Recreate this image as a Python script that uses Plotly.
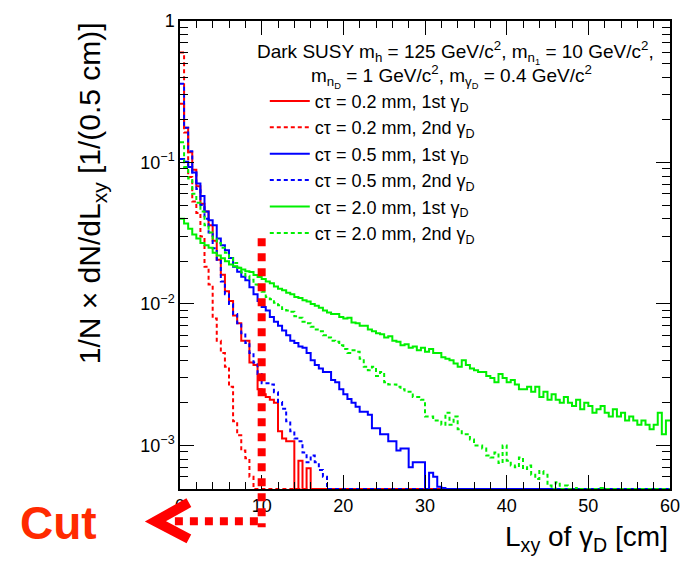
import plotly.graph_objects as go

# ---------------- data (per 0.5 cm bin, starting at L_xy = 0) ----------------
BIN_WIDTH = 0.5
N_BINS = 120
CUT_X = 10

ct02_1st = [0.26, 0.176, 0.118, 0.089, 0.068, 0.051, 0.045, 0.036, 0.028, 0.0205,
            0.0161, 0.0123, 0.0105, 0.0083, 0.0073, 0.0055, 0.0055, 0.00385, 0.0037, 0.0025,
            0.0023, 0.0022, 0.0021, 0.0020, 0.00126, 0.00112, 0.00107, 0.00107, 0.0, 0.00078,
            0.0, 0.00069, 0.0, 0.0]

ct02_2nd = [0.60, 0.163, 0.079, 0.053, 0.044, 0.030, 0.0183, 0.0137, 0.0079, 0.0055,
            0.0045, 0.0036, 0.0026, 0.00148, 0.00118, 0.00092, 0.00081, 0.0006, 0.0, 0.0]

ct05_1st = [0.106, 0.101, 0.093, 0.085, 0.071, 0.058, 0.045, 0.039, 0.036, 0.029,
            0.026, 0.024, 0.0211, 0.0183, 0.0169, 0.0156, 0.0147, 0.0131, 0.0117, 0.0105,
            0.0095, 0.0090, 0.0081, 0.0075, 0.0070, 0.0065, 0.0060, 0.0055, 0.0053, 0.0050,
            0.0049, 0.0045, 0.0040, 0.0037, 0.0035, 0.0033, 0.0033, 0.0029, 0.0028, 0.0025,
            0.0023, 0.00213, 0.0020, 0.00188, 0.00173, 0.00173, 0.00165, 0.00132, 0.00132, 0.0012,
            0.0012, 0.00107, 0.00107, 0.00092, 0.00095, 0.00095, 0.0007, 0.00076, 0.00076, 0.00076,
            0.0, 0.00064, 0.0006, 0.00051, 0.0005, 0.0]

ct05_2nd = [0.36, 0.176, 0.12, 0.085, 0.065, 0.050, 0.040, 0.032, 0.0248, 0.0205,
            0.0144, 0.0117, 0.0100, 0.0085, 0.0073, 0.0062, 0.0053, 0.0045, 0.00385, 0.0032,
            0.00275, 0.00275, 0.0027, 0.00238, 0.00203, 0.00182, 0.00148, 0.00126, 0.00112, 0.00107,
            0.00089, 0.00076, 0.00085, 0.00076, 0.00067, 0.0006, 0.0]

ct20_1st = [0.040, 0.037, 0.034, 0.031, 0.029, 0.027, 0.026, 0.025, 0.023, 0.022,
            0.021, 0.020, 0.019, 0.0185, 0.018, 0.0175, 0.017, 0.0168, 0.016, 0.0155,
            0.0150, 0.0144, 0.0140, 0.0133, 0.0128, 0.0125, 0.0120, 0.0117, 0.0112, 0.0110,
            0.0106, 0.0104, 0.0100, 0.0097, 0.0094, 0.0090, 0.0087, 0.0085, 0.0085, 0.0081,
            0.0079, 0.0080, 0.0074, 0.0073, 0.0070, 0.0070, 0.0066, 0.0064, 0.0062, 0.0061,
            0.0058, 0.0059, 0.0055, 0.0054, 0.0051, 0.0052, 0.0049, 0.0050, 0.0047, 0.0049,
            0.0046, 0.0048, 0.0045, 0.0045, 0.0042, 0.0041, 0.0040, 0.0038, 0.0036, 0.0040,
            0.0037, 0.0035, 0.0034, 0.0033, 0.0033, 0.0031, 0.0030, 0.0028, 0.0032, 0.0030,
            0.0028, 0.0029, 0.0027, 0.0025, 0.0025, 0.0026, 0.0024, 0.0026, 0.0022, 0.0024,
            0.0021, 0.0023, 0.0021, 0.0020, 0.0022, 0.0020, 0.0019, 0.0021, 0.0018, 0.0020,
            0.0019, 0.0017, 0.0018, 0.0019, 0.0017, 0.0016, 0.0018, 0.0016, 0.0017, 0.0015,
            0.0016, 0.0015, 0.0014, 0.0015, 0.0014, 0.0013, 0.0014, 0.0017, 0.0012, 0.0015]

ct20_2nd = [0.139, 0.093, 0.077, 0.060, 0.052, 0.045, 0.036, 0.032, 0.029, 0.027,
            0.025, 0.023, 0.021, 0.0195, 0.018, 0.0167, 0.0158, 0.0148, 0.0137, 0.0130,
            0.0122, 0.0112, 0.0108, 0.0102, 0.0098, 0.0092, 0.0090, 0.0088, 0.0082, 0.0080,
            0.0075, 0.0073, 0.0069, 0.0066, 0.0064, 0.0060, 0.0058, 0.0055, 0.0054, 0.0051,
            0.0048, 0.0045, 0.0047, 0.0046, 0.0041, 0.0036, 0.0034, 0.0036, 0.0031, 0.0033,
            0.0028, 0.0027, 0.0027, 0.0026, 0.0025, 0.0024, 0.0024, 0.0022, 0.0022, 0.0021,
            0.0016, 0.0016, 0.0015, 0.0015, 0.0014, 0.0017, 0.0014, 0.0016, 0.0013, 0.0012,
            0.0012, 0.0011, 0.0010, 0.0010, 0.00095, 0.00085, 0.00082, 0.00089, 0.00075, 0.0010,
            0.00078, 0.00072, 0.00070, 0.00082, 0.00068, 0.00072, 0.00062, 0.00058, 0.00066, 0.00062,
            0.00052, 0.0, 0.00055, 0.0, 0.00052, 0.0, 0.0, 0.0005, 0.0, 0.0,
            0.0, 0.0, 0.0, 0.0005, 0.0]

series_names = ["cτ = 0.2 mm, 1st γ<sub>D</sub>", "cτ = 0.2 mm, 2nd γ<sub>D</sub>",
                "cτ = 0.5 mm, 1st γ<sub>D</sub>", "cτ = 0.5 mm, 2nd γ<sub>D</sub>",
                "cτ = 2.0 mm, 1st γ<sub>D</sub>", "cτ = 2.0 mm, 2nd γ<sub>D</sub>"]
series_values = [ct02_1st, ct02_2nd, ct05_1st, ct05_2nd, ct20_1st, ct20_2nd]
series_colors = ["#ff0000", "#ff0000", "#0000ff", "#0000ff", "#00f000", "#00f000"]
series_dash = ["solid", "4px,3px", "solid", "4px,3px", "solid", "4px,3px"]

x_ticks = [0, 10, 20, 30, 40, 50, 60]
y_tickvals = [1e-3, 1e-2, 1e-1, 1]
y_ticktext = ["10<sup>−3</sup>", "10<sup>−2</sup>", "10<sup>−1</sup>", "1"]

# ---------------- layout helpers ----------------
W, H = 691, 565
L, R, T, B = 180, 14, 11, 76
PW, PH = W - L - R, H - T - B
Y_LOG_MIN = -3.308
FLOOR = 10 ** Y_LOG_MIN
FONT = "Liberation Sans, Arial, Helvetica, sans-serif"


def px_x(px):
    return (px - L) / PW


def px_y(py):
    return (H - B - py) / PH


edges = [i * BIN_WIDTH for i in range(N_BINS + 1)]

fig = go.Figure()
for i, (name, vals, col, dash) in enumerate(zip(series_names, series_values, series_colors, series_dash)):
    full = list(vals) + [0.0] * (N_BINS - len(vals))
    ys = [v if v > FLOOR else FLOOR for v in full]
    ys = ys + [ys[-1]]
    fig.add_trace(go.Scatter(x=edges, y=ys, mode="lines", name=name, legendgroup="g%d" % i,
                             line=dict(color=col, width=2, dash=dash, shape="hv"),
                             hoverinfo="skip"))

minor_y = [k * 10 ** e for e in range(-4, 0) for k in range(2, 10) if k * 10 ** e > FLOOR]

fig.update_layout(
    width=W, height=H,
    margin=dict(l=L, r=R, t=T, b=B),
    paper_bgcolor="white", plot_bgcolor="white",
    font=dict(family=FONT, size=18, color="black"),
    showlegend=True,
    legend=dict(x=px_x(266), y=px_y(74), xanchor="left", yanchor="top",
                font=dict(size=18, family=FONT), bgcolor="rgba(0,0,0,0)",
                tracegroupgap=0, itemwidth=40),
    xaxis=dict(range=[0, 60], tickvals=x_ticks, ticks="inside", ticklen=14, tickwidth=1.2,
               tickcolor="black", showline=True, linecolor="black", linewidth=1.5,
               mirror="allticks", showgrid=False, zeroline=False,
               tickfont=dict(size=18, family=FONT),
               minor=dict(dtick=2, tick0=0, ticks="inside", ticklen=7, tickcolor="black",
                          tickwidth=1.2, showgrid=False)),
    yaxis=dict(type="log", range=[Y_LOG_MIN, 0], tickvals=y_tickvals, ticktext=y_ticktext,
               ticks="inside", ticklen=14, tickwidth=1.2, tickcolor="black",
               showline=True, linecolor="black", linewidth=1.5, mirror="allticks",
               showgrid=False, zeroline=False, tickfont=dict(size=18, family=FONT),
               minor=dict(tickvals=minor_y, ticks="inside", ticklen=8, tickcolor="black",
                          tickwidth=1.2, showgrid=False)),
)

annotations = [
    dict(text="1/N × dN/dL<sub>xy</sub> [1/(0.5 cm)]", textangle=-90,
         xref="paper", yref="paper", x=px_x(90), y=px_y(10), xanchor="center", yanchor="top",
         showarrow=False, font=dict(size=30, family=FONT)),
    dict(text="L<sub>xy</sub> of γ<sub>D</sub> [cm]", xref="paper", yref="paper",
         x=px_x(677), y=px_y(540), xanchor="right", yanchor="middle",
         showarrow=False, font=dict(size=28, family=FONT)),
    dict(text="Dark SUSY m<sub>h</sub> = 125 GeV/c<sup>2</sup>, m<sub>n<sub>1</sub></sub> = 10 GeV/c<sup>2</sup>,",
         xref="paper", yref="paper", x=px_x(256), y=px_y(43), xanchor="left", yanchor="middle",
         showarrow=False, font=dict(size=19, family=FONT)),
    dict(text="m<sub>n<sub>D</sub></sub> = 1 GeV/c<sup>2</sup>, m<sub>γ<sub>D</sub></sub> = 0.4 GeV/c<sup>2</sup>",
         xref="paper", yref="paper", x=px_x(311), y=px_y(68), xanchor="left", yanchor="middle",
         showarrow=False, font=dict(size=19, family=FONT)),
    dict(text="<b>Cut</b>", xref="paper", yref="paper", x=px_x(57), y=px_y(524),
         xanchor="center", yanchor="middle", showarrow=False,
         font=dict(size=46, family=FONT, color="#ff2a00")),
]
fig.update_layout(annotations=annotations)

shapes = [
    dict(type="line", xref="x", yref="paper", x0=CUT_X, x1=CUT_X, y0=px_y(233), y1=px_y(528),
         line=dict(color="#ff0000", width=8, dash="8px,7px")),
    dict(type="line", xref="paper", yref="paper", x0=px_x(259), x1=px_x(172), y0=px_y(522), y1=px_y(522),
         line=dict(color="#ff0000", width=8, dash="8px,7px")),
    dict(type="path", xref="paper", yref="paper",
         path="M {:.4f},{:.4f} L {:.4f},{:.4f} L {:.4f},{:.4f}".format(
             px_x(189), px_y(503), px_x(155), px_y(522), px_x(189), px_y(540)),
         line=dict(color="#ff0000", width=10)),
]
fig.update_layout(shapes=shapes)

fig.write_html("out.html")
